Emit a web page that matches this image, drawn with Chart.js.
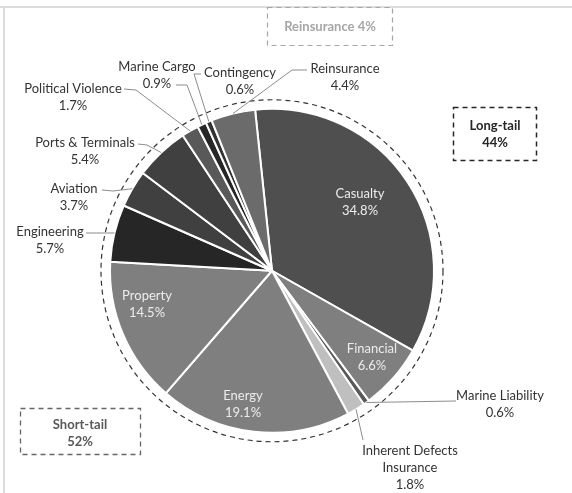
<!DOCTYPE html>
<html>
<head>
<meta charset="utf-8">
<script src="https://cdn.jsdelivr.net/npm/chart.js@4.4.1/dist/chart.umd.min.js"></script>
<style>
    html, body { margin: 0; padding: 0; background: #fff; }
</style>
</head>
<body>
<canvas id="grafico" width="572" height="493"></canvas>
<script>
// dados
const categorias = ['Casualty', 'Financial', 'Marine Liability', 'Inherent Defects Insurance', 'Energy', 'Property',
    'Engineering', 'Aviation', 'Ports & Terminals', 'Political Violence', 'Marine Cargo', 'Contingency', 'Reinsurance'];
const participacao = [34.8, 6.6, 0.6, 1.8, 19.1, 14.5, 5.7, 3.7, 5.4, 1.7, 0.9, 0.6, 4.4];
const coresFatias = ['#4f4f4f', '#7f7f7f', '#595959', '#bfbfbf', '#7f7f7f', '#7f7f7f',
    '#262626', '#404040', '#404040', '#595959', '#262626', '#333333', '#6b6b6b'];
const grupos = ['Reinsurance 4%', 'Long-tail', '44%', 'Short-tail', '52%'];

const FONTE = 'Lato, "Liberation Sans", sans-serif';

// posição dos rótulos (texto) e das linhas de chamada
const rotulos = {
    'Casualty': { x: 360, y: 194, dentro: true },
    'Financial': { x: 372, y: 349, dentro: true },
    'Energy': { x: 243, y: 396, dentro: true },
    'Property': { x: 147, y: 296, dentro: true },
    'Marine Liability': { x: 500, y: 396, linha: [[456, 401]] },
    'Inherent Defects Insurance': { x: 410, y: 451, quebra: ['Inherent Defects', 'Insurance'], linha: [[363, 440]] },
    'Engineering': { x: 50, y: 232, linha: [[86, 233], [100, 233]] },
    'Aviation': { x: 74, y: 189, linha: [[102, 190], [113, 191]] },
    'Ports & Terminals': { x: 85, y: 143, linha: [[138, 144], [147, 145]] },
    'Political Violence': { x: 73, y: 89, linha: [[124, 89], [136, 90]] },
    'Marine Cargo': { x: 157, y: 67, linha: [[176, 85], [187, 85]] },
    'Contingency': { x: 240, y: 73, linha: [[201, 74], [194, 74]] },
    'Reinsurance': { x: 345, y: 69, linha: [[307, 70], [292, 70]] }
};

function caixa(ctx, x, y, w, h, cor, largura) {
    ctx.save();
    ctx.strokeStyle = cor;
    ctx.lineWidth = largura;
    ctx.setLineDash([5, 4]);
    ctx.strokeRect(x, y, w, h);
    ctx.restore();
}

const pluginDesenho = {
    id: 'desenho',
    afterDraw(chart) {
        const ctx = chart.ctx;
        const meta = chart.getDatasetMeta(0);
        const arco0 = meta.data[0];
        const cx = arco0.x, cy = arco0.y, raio = arco0.outerRadius;

        // moldura
        ctx.save();
        ctx.fillStyle = '#dcdcdc';
        ctx.fillRect(0, 6, 572, 2);
        ctx.fillRect(3, 6, 2, 487);
        ctx.restore();

        // círculo tracejado
        ctx.save();
        ctx.strokeStyle = '#333';
        ctx.lineWidth = 1.2;
        ctx.setLineDash([5, 4]);
        ctx.beginPath();
        ctx.arc(cx, cy, raio + 9, 0, Math.PI * 2);
        ctx.stroke();
        ctx.restore();

        // caixas dos grupos
        caixa(ctx, 267.5, 7.5, 125, 38, '#a6a6a6', 1.2);
        caixa(ctx, 453.5, 107.5, 83, 53, '#262626', 1.5);
        caixa(ctx, 20.5, 408.5, 120, 46, '#666666', 1.3);
        ctx.save();
        ctx.textAlign = 'center';
        ctx.textBaseline = 'middle';
        ctx.font = 'bold 13px ' + FONTE;
        ctx.fillStyle = '#a6a6a6';
        ctx.fillText(grupos[0], 330, 27);
        ctx.fillStyle = '#262626';
        ctx.fillText(grupos[1], 495, 126);
        ctx.fillText(grupos[2], 495, 143);
        ctx.fillStyle = '#595959';
        ctx.fillText(grupos[3], 80, 425);
        ctx.fillText(grupos[4], 80, 442);
        ctx.restore();

        // rótulos e linhas de chamada
        categorias.forEach((nome, i) => {
            const r = rotulos[nome];
            const arco = meta.data[i];
            const meio = (arco.startAngle + arco.endAngle) / 2;
            if (r.linha) {
                ctx.save();
                ctx.strokeStyle = '#8c8c8c';
                ctx.lineWidth = 1;
                ctx.beginPath();
                ctx.moveTo(r.linha[0][0], r.linha[0][1]);
                r.linha.slice(1).forEach(p => ctx.lineTo(p[0], p[1]));
                ctx.lineTo(cx + raio * Math.cos(meio), cy + raio * Math.sin(meio));
                ctx.stroke();
                ctx.restore();
            }
            const linhas = (r.quebra || [nome]).concat([participacao[i].toFixed(1) + '%']);
            ctx.save();
            ctx.font = '13px ' + FONTE;
            ctx.textAlign = 'center';
            ctx.textBaseline = 'middle';
            ctx.fillStyle = r.dentro ? '#ececec' : '#333333';
            linhas.forEach((t, k) => ctx.fillText(t, r.x, r.y + k * 16.8));
            ctx.restore();
        });
    }
};

const ctxGrafico = document.getElementById('grafico').getContext('2d');
const grafico = new Chart(ctxGrafico, {
    type: 'pie',
    data: {
        labels: categorias,
        datasets: [{
            data: participacao,
            backgroundColor: coresFatias,
            borderColor: '#ffffff',
            borderWidth: 2
        }]
    },
    options: {
        responsive: false,
        animation: false,
        rotation: -6,
        layout: {
            padding: { left: 109, right: 137, top: 107.5, bottom: 59 }
        },
        plugins: {
            legend: { display: false },
            tooltip: { enabled: false }
        }
    },
    plugins: [pluginDesenho]
});
</script>
</body>
</html>
